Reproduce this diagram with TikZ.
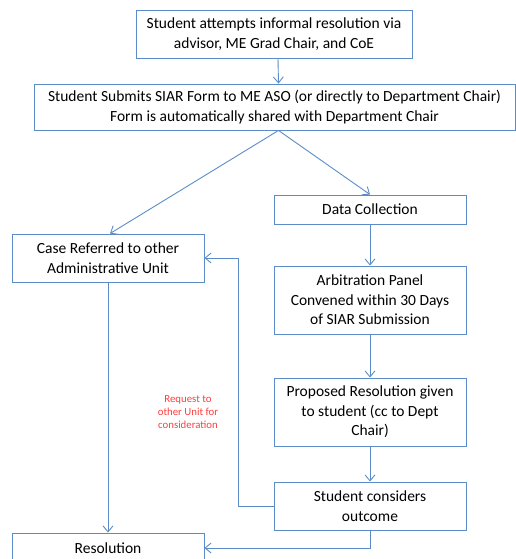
\documentclass[tikz,border=0pt]{standalone}
\usepackage{fontspec}
\setmainfont{Carlito}
\usetikzlibrary{arrows.meta}
\definecolor{lineblue}{RGB}{91,140,200}
\definecolor{notered}{RGB}{255,60,60}
\begin{document}
\begin{tikzpicture}[x=1pt,y=-1pt,
        box/.style={draw=lineblue, line width=0.9pt, align=center, inner sep=2pt,
            font=\fontsize{15.5}{19.5}\selectfont},
        arr/.style={draw=lineblue, line width=0.9pt, -{Straight Barb[length=6pt,width=10pt]}},
        note/.style={text=notered, align=center, font=\fontsize{10.8}{13}\selectfont}]
    \useasboundingbox (0,0) rectangle (516,559);

    \node[box, minimum width=276pt, minimum height=48pt] (attempt) at (274,34) {Student attempts informal resolution via\\advisor, ME Grad Chair, and CoE};
    \node[box, minimum width=481pt, minimum height=46pt] (submit) at (274.5,107) {Student Submits SIAR Form to ME ASO (or directly to Department Chair)\\Form is automatically shared with Department Chair};
    \node[box, minimum width=192pt, minimum height=29pt] (data) at (370,209.5) {Data Collection};
    \node[box, minimum width=192pt, minimum height=48pt] (referred) at (108,258) {Case Referred to other\\Administrative Unit};
    \node[box, minimum width=192pt, minimum height=68pt] (panel) at (370,300) {Arbitration Panel\\Convened within 30 Days\\of SIAR Submission};
    \node[box, minimum width=192pt, minimum height=68pt] (proposed) at (370,412) {Proposed Resolution given\\to student (cc to Dept\\Chair)};
    \node[box, minimum width=192pt, minimum height=48pt] (considers) at (370,506) {Student considers\\outcome};
    \node[box, minimum width=192pt, minimum height=30pt] (resolution) at (108,548) {Resolution};

    \node[note] (request) at (188,412) {Request to\\other Unit for\\consideration};

    \coordinate (split) at ([xshift=4pt]submit.south);
    \draw[arr] ([xshift=4pt]attempt.south) -- ([xshift=4pt]submit.north);
    \draw[arr] (split) -- (data.north);
    \draw[arr] (split) -- ([xshift=2pt]referred.north);
    \draw[arr] (data) -- (panel);
    \draw[arr] (panel) -- (proposed);
    \draw[arr] (proposed) -- (considers);
    \draw[arr] (referred) -- (resolution);
    \draw[arr] (considers.west) -- ++(-35,0) |- (referred.east);
    \draw[arr] (considers.south) |- (resolution.east);
\end{tikzpicture}
\end{document}
